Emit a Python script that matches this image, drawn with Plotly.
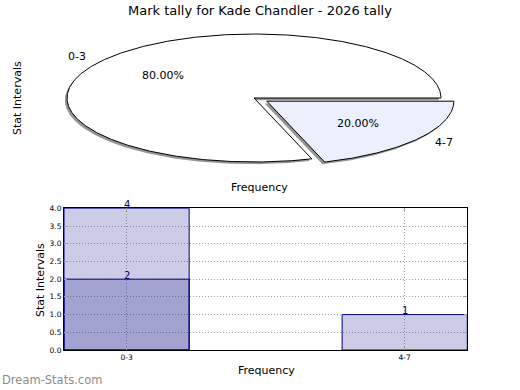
import numpy as np
import plotly.graph_objects as go

# ---------------- data ----------------
title = "Mark tally for Kade Chandler - 2026 tally"
categories = ["0-3", "4-7"]
pie_values = [4, 1]
bar_series_a = [4, 1]
bar_series_b = [2, None]
y_ticks = [0.0, 0.5, 1.0, 1.5, 2.0, 2.5, 3.0, 3.5, 4.0]
axis_x_title = "Frequency"
axis_y_title = "Stat Intervals"
watermark = "Dream-Stats.com"

# ---------------- layout constants ----------------
W, H = 520, 390
FONT = "DejaVu Sans"
cx, cy = 254, H - 98          # pie centre (pie axes use pixel-like units, y up)
rx, ry = 187, 64              # ellipse radii
explode = [0.0, 0.085]
slice_colors = ["white", "rgb(235,240,252)"]
shadow_color = "rgb(150,150,150)"
shadow_off = 2.2

fig = go.Figure()

# ---------------- pie (elliptical, drawn via scatter fills) ----------------
total = float(sum(pie_values))
start = 0.0
slice_polys = []
label_annots = []
for i, v in enumerate(pie_values):
    frac = v / total
    t0, t1 = start, start + frac * 2 * np.pi
    mid = 0.5 * (t0 + t1)
    ox = explode[i] * rx * np.cos(mid)
    oy = explode[i] * ry * np.sin(mid)
    t = np.linspace(t0, t1, max(3, int(frac * 720) + 1))
    xs = np.concatenate([[cx + ox], cx + ox + rx * np.cos(t), [cx + ox]])
    ys = np.concatenate([[cy + oy], cy + oy + ry * np.sin(t), [cy + oy]])
    slice_polys.append((xs, ys, slice_colors[i]))
    pr = 0.6 + explode[i]
    label_annots.append(dict(x=cx + pr * rx * np.cos(mid), y=cy + pr * ry * np.sin(mid),
                             text="%.2f%%" % (frac * 100), xanchor="center", yanchor="middle"))
    lr = 1.1 + explode[i]
    label_annots.append(dict(x=cx + lr * rx * np.cos(mid), y=cy + lr * ry * np.sin(mid),
                             text=categories[i],
                             xanchor="right" if np.cos(mid) < 0 else "left", yanchor="middle"))
    start = t1

for xs, ys, _ in slice_polys:
    fig.add_trace(go.Scatter(x=xs - shadow_off, y=ys - shadow_off, mode="lines", fill="toself",
                             fillcolor=shadow_color, line=dict(width=0, color=shadow_color),
                             xaxis="x2", yaxis="y2", hoverinfo="skip", showlegend=False))
for xs, ys, col in slice_polys:
    fig.add_trace(go.Scatter(x=xs, y=ys, mode="lines", fill="toself", fillcolor=col,
                             line=dict(width=1, color="black"),
                             xaxis="x2", yaxis="y2", hoverinfo="skip", showlegend=False))

annotations = []
for a in label_annots:
    a.update(xref="x2", yref="y2", showarrow=False, font=dict(family=FONT, size=11, color="black"))
    annotations.append(a)

# ---------------- bars ----------------
bar_fill = "rgba(0,0,128,0.2)"
for series in (bar_series_a, bar_series_b):
    fig.add_trace(go.Bar(x=categories, y=series, width=0.45,
                         marker=dict(color=bar_fill, line=dict(color="navy", width=1)),
                         xaxis="x", yaxis="y", hoverinfo="skip", showlegend=False))
    for c, v in zip(categories, series):
        if v is not None:
            annotations.append(dict(x=c, y=v, xref="x", yref="y", text=str(v), showarrow=False,
                                    yanchor="middle", yshift=4,
                                    font=dict(family=FONT, size=10, color="navy")))

# ---------------- text ----------------
def px(x):
    return x / W

def py(y):
    return 1 - y / H

text_font = dict(family=FONT, size=11, color="black")
annotations += [
    dict(x=px(17), y=py(98), xref="paper", yref="paper", text=axis_y_title, textangle=-90,
         showarrow=False, font=text_font, xanchor="center", yanchor="middle"),
    dict(x=px(259), y=py(187), xref="paper", yref="paper", text=axis_x_title,
         showarrow=False, font=text_font, xanchor="center", yanchor="middle"),
    dict(x=px(40), y=py(280), xref="paper", yref="paper", text=axis_y_title, textangle=-90,
         showarrow=False, font=text_font, xanchor="center", yanchor="middle"),
    dict(x=px(266), y=py(370), xref="paper", yref="paper", text=axis_x_title,
         showarrow=False, font=text_font, xanchor="center", yanchor="middle"),
    dict(x=px(260), y=py(10), xref="paper", yref="paper", text=title,
         showarrow=False, font=dict(family=FONT, size=13, color="black"),
         xanchor="center", yanchor="middle"),
    dict(x=0, y=py(380), xref="paper", yref="paper", text=watermark,
         showarrow=False, font=dict(family=FONT, size=11.5, color="rgb(140,140,140)"),
         xanchor="left", yanchor="middle"),
]

grid_common = dict(showgrid=True, gridcolor="rgb(165,165,165)", griddash="1px,2px", gridwidth=1,
                   showline=True, linecolor="black", linewidth=1, mirror="allticks",
                   ticks="inside", ticklen=3, tickcolor="rgb(160,160,160)",
                   tickfont=dict(family=FONT, size=7.5, color="black"), zeroline=False,
                   automargin=False)

fig.update_layout(
    width=W, height=H, autosize=False,
    margin=dict(l=0, r=0, t=0, b=0, pad=0),
    paper_bgcolor="white", plot_bgcolor="rgba(0,0,0,0)",
    barmode="overlay",
    xaxis=dict(domain=[px(64), px(467.3)], range=[-0.225, 1.225], type="category",
               anchor="y", **grid_common),
    yaxis=dict(domain=[py(350), py(208.3)], range=[0, 4], tickvals=y_ticks,
               ticktext=["%.1f" % v for v in y_ticks], anchor="x", **grid_common),
    xaxis2=dict(domain=[0, 1], range=[0, W], visible=False, anchor="y2", automargin=False),
    yaxis2=dict(domain=[0, 1], range=[0, H], visible=False, anchor="x2", automargin=False),
    annotations=annotations,
)

fig.write_html("out.html", config={"displayModeBar": False},
               post_script="document.body.style.margin='0';document.body.style.overflow='hidden';")
